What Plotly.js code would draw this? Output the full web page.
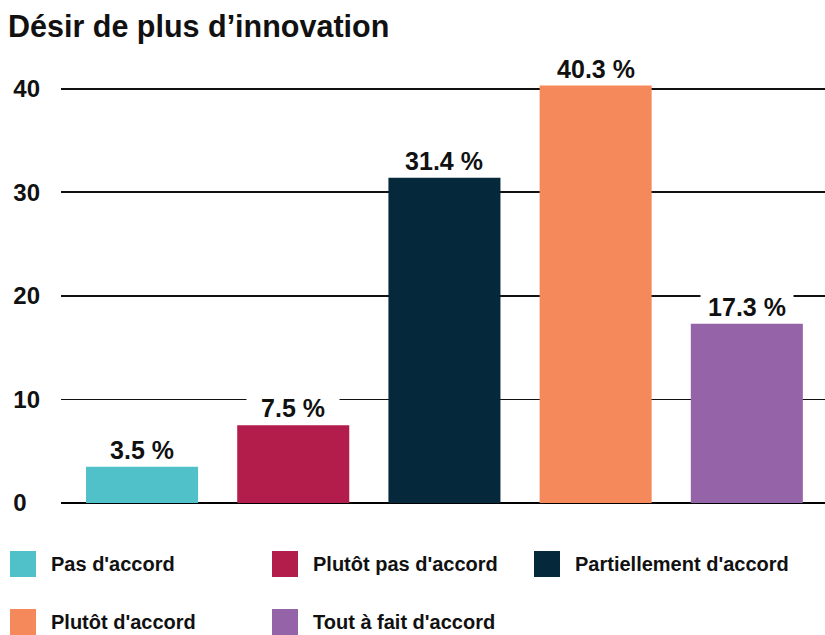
<!DOCTYPE html>
<html>
<head>
<meta charset="utf-8">
<script src="https://cdn.plot.ly/plotly-3.0.1.min.js"></script>
<style>html,body{margin:0;padding:0;background:#fff;}#chart{width:825px;height:635px;}</style>
</head>
<body>
<div id="chart"></div>
<script>
const titleText = "Désir de plus d’innovation";
const categories = ["Pas d'accord", "Plutôt pas d'accord", "Partiellement d'accord", "Plutôt d'accord", "Tout à fait d'accord"];
const values = [3.5, 7.5, 31.4, 40.3, 17.3];
const colors = ["#50C1C9", "#B31D4B", "#05293A", "#F5895C", "#9563A8"];
const yTickVals = [0, 10, 20, 30, 40];
const yTickText = ["0\u00a0\u00a0", "10", "20", "30", "40"];

const FONT = "Liberation Sans, Arial, Helvetica, sans-serif";
const W = 825, H = 635;
const M = {l: 61, r: 0, t: 68, b: 132};
const plotW = W - M.l - M.r, plotH = H - M.t - M.b;
const px2x = px => (px - M.l) / plotW;
const py2y = py => (H - M.b - py) / plotH;

const trace = {
  type: 'bar',
  x: categories,
  y: values,
  marker: {color: colors, line: {width: 0}},
  showlegend: false,
  hoverinfo: 'none'
};

const annotations = [];
const shapes = [];
// value labels
values.forEach((v, i) => {
  annotations.push({
    x: categories[i], y: v, xref: 'x', yref: 'y',
    text: v.toFixed(1) + ' %', showarrow: false,
    yanchor: 'middle', yshift: 17, width: 92, height: 28,
    bgcolor: '#ffffff', borderpad: 0,
    font: {family: FONT, size: 25, color: '#111', weight: 700}
  });
});
// custom legend (large square swatches)
categories.forEach((c, i) => {
  const col = i % 3, row = Math.floor(i / 3);
  const sx = 10 + col * 262, sy = 564 + row * 58;
  shapes.push({
    type: 'rect', xref: 'paper', yref: 'paper',
    x0: px2x(sx), x1: px2x(sx + 26), y0: py2y(sy + 13), y1: py2y(sy - 13),
    fillcolor: colors[i], line: {width: 0}, layer: 'above'
  });
  annotations.push({
    xref: 'paper', yref: 'paper', x: px2x(sx + 39), y: py2y(sy),
    xanchor: 'left', yanchor: 'middle', showarrow: false, text: c,
    font: {family: FONT, size: 20, color: '#111', weight: 700}
  });
});

const layout = {
  width: W, height: H,
  margin: {l: M.l, r: M.r, t: M.t, b: M.b, pad: 0},
  paper_bgcolor: '#ffffff', plot_bgcolor: '#ffffff',
  font: {family: FONT, color: '#111'},
  title: {
    text: titleText, xref: 'container', yref: 'container',
    x: 8 / W, xanchor: 'left', y: 1 - 26 / H, yanchor: 'middle',
    font: {family: FONT, size: 30.5, color: '#111', weight: 700}
  },
  bargap: 0.259,
  xaxis: {
    type: 'category', range: [-0.536, 4.517],
    showticklabels: false, showgrid: false, zeroline: false, showline: false, ticks: '', fixedrange: true
  },
  yaxis: {
    range: [0, 42], tickmode: 'array', tickvals: yTickVals, ticktext: yTickText,
    showgrid: true, gridcolor: '#111', gridwidth: 1.6,
    zeroline: true, zerolinecolor: '#000', zerolinewidth: 2.6,
    showline: false, ticks: '', ticklabelstandoff: 20,
    tickfont: {family: FONT, size: 24, color: '#111', weight: 700}, fixedrange: true
  },
  shapes: shapes,
  annotations: annotations,
  showlegend: false
};

Plotly.newPlot('chart', [trace], layout, {displayModeBar: false, staticPlot: true});
</script>
</body>
</html>
